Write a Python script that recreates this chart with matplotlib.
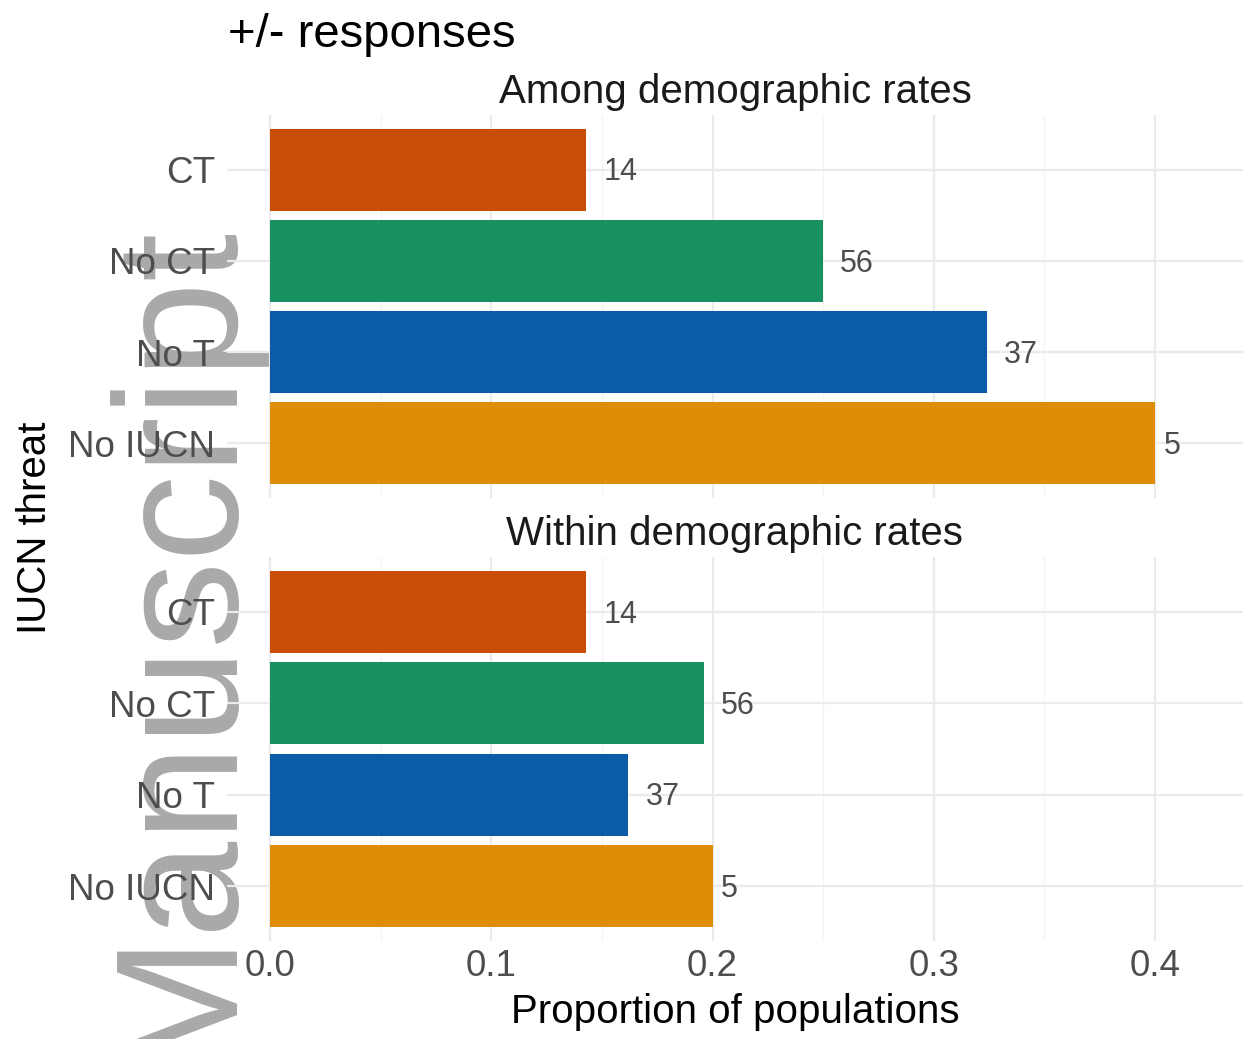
import matplotlib
matplotlib.use("Agg")
import matplotlib.pyplot as plt
from matplotlib.ticker import MultipleLocator

plt.rcParams['font.family'] = ['Liberation Sans', 'DejaVu Sans']

# ---- data ----
categories = ["CT", "No CT", "No T", "No IUCN"]
colors = ["#CA4D05", "#18905F", "#0B5CA6", "#DE8D08"]
panel_titles = ["Among demographic rates", "Within demographic rates"]
among_values = [0.143, 0.250, 0.324, 0.400]
within_values = [0.143, 0.196, 0.162, 0.200]
counts = ["14", "56", "37", "5"]
xticks = [0.0, 0.1, 0.2, 0.3, 0.4]
xtick_labels = ["0.0", "0.1", "0.2", "0.3", "0.4"]

W, H = 1243, 1039
fig = plt.figure(figsize=(W / 100, H / 100), dpi=100)

# watermark (behind everything)
fig.text(224 / W, 1 - 1067 / H, "Manuscript", rotation=90, rotation_mode='anchor',
         ha='left', va='baseline', fontsize=125, color='#A9A9A9', zorder=-1)

left = 227 / W
width = 1 - left
panels = [(115, 498), (557, 941)]
xlim = ((227 - 270) / 2212.5, (1243 - 270) / 2212.5)

axes = []
for (top, bot), vals, ptitle in zip(panels, [among_values, within_values], panel_titles):
    ax = fig.add_axes([left, 1 - bot / H, width, (bot - top) / H])
    ax.patch.set_visible(False)
    ypos = list(range(len(categories)))
    ax.barh(ypos, vals, height=0.9, color=colors, zorder=2)
    for y, v, c in zip(ypos, vals, counts):
        fs = 22
        off = 0.5 * len(c) * 0.556 * fs
        ax.annotate(c, (v, y), xytext=(off, -2), textcoords='offset points',
                    ha='left', va='center', fontsize=fs, color='#4D4D4D', zorder=3)
    ax.set_xlim(*xlim)
    ax.set_ylim(3.6, -0.6)
    ax.set_yticks(ypos)
    ax.set_yticklabels(categories)
    ax.xaxis.set_major_locator(MultipleLocator(0.1))
    ax.xaxis.set_minor_locator(MultipleLocator(0.05))
    ax.grid(True, which='major', axis='both', color='#EBEBEB', linewidth=1.6, zorder=0)
    ax.grid(True, which='minor', axis='x', color='#F4F4F4', linewidth=0.9, zorder=0)
    ax.set_axisbelow(True)
    for s in ax.spines.values():
        s.set_visible(False)
    ax.tick_params(axis='both', which='both', length=0)
    ax.tick_params(axis='y', labelsize=26.5, labelcolor='#4D4D4D', pad=8.5)
    ax.tick_params(axis='x', labelsize=26.5, labelcolor='#4D4D4D', pad=6)
    ax.text(0.5, 1 + 23 / (bot - top), ptitle, transform=ax.transAxes,
            ha='center', va='center', fontsize=29, color='#1A1A1A')
    axes.append(ax)

axes[0].set_xticks(xticks)
axes[0].tick_params(axis='x', labelbottom=False)
axes[1].set_xticks(xticks)
axes[1].set_xticklabels(xtick_labels)

fig.text(228 / W, 1 - 35 / H, "+/- responses", ha='left', va='center',
         fontsize=34, color='black')
fig.text(735 / W, 1 - 1012 / H, "Proportion of populations", ha='center', va='center',
         fontsize=29, color='black')
fig.text(35 / W, 1 - 528 / H, "IUCN threat", ha='center', va='center', rotation=90,
         fontsize=29, color='black')

fig.savefig("out.png", dpi=100)
